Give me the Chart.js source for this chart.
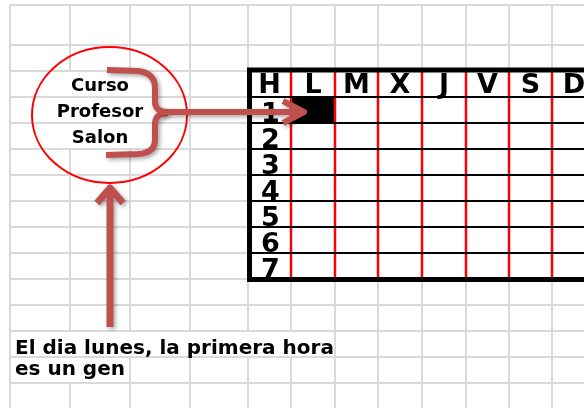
<!DOCTYPE html>
<html>
<head>
<meta charset="utf-8">
<script src="https://cdn.jsdelivr.net/npm/chart.js@4/dist/chart.umd.min.js"></script>
<style>
  html, body { margin: 0; padding: 0; background: #fff; }
</style>
</head>
<body>
<canvas id="sheet" width="584" height="408"></canvas>
<script>
// spreadsheet grid (column / row borders, in sheet units)
const sheetColEdges = [10, 70, 130, 190, 248, 291, 335, 378, 422, 466, 509, 552, 596];
const sheetRowEdges = [5, 45, 71, 97, 123, 149, 175, 201, 227, 253, 279, 305, 331, 357, 383];

// timetable
const days = ['H', 'L', 'M', 'X', 'J', 'V', 'S', 'D'];
const hours = ['1', '2', '3', '4', '5', '6', '7'];
const busySlots = [['L', '1']];

const legendLines = ['Curso', 'Profesor', 'Salon'];
const noteLines = ['El dia lunes, la primera hora', 'es un gen'];

const TABLE_COL = 4;   // table starts at this sheet column border
const TABLE_ROW = 2;   // and at this sheet row border
const FONT = '"DejaVu Sans", sans-serif';
const BRACE = 'rgb(192, 80, 77)';

const sheetPlugin = {
    id: 'sheetDrawing',
    afterDraw(chart) {
        const ctx = chart.ctx;
        const x = v => chart.scales.x.getPixelForValue(v);
        const y = v => chart.scales.y.getPixelForValue(v);
        const colX = i => x(sheetColEdges[i]);
        const rowY = i => y(sheetRowEdges[i]);

        ctx.save();

        // text overflowing cells hides vertical gridlines
        ctx.fillStyle = '#fff';
        for (let r = 2; r <= 4; r++) {
            ctx.fillRect(colX(0) + 1, rowY(r) + 1, colX(3) - colX(0) - 2, rowY(r + 1) - rowY(r) - 2);
        }
        ctx.fillRect(colX(0) + 1, rowY(12) + 1, colX(6) - colX(0) - 2, rowY(13) - rowY(12) - 2);
        ctx.fillRect(colX(0) + 1, rowY(13) + 1, colX(2) - colX(0) - 2, rowY(14) - rowY(13) - 2);

        // timetable
        const top = rowY(TABLE_ROW);
        const bottom = rowY(TABLE_ROW + hours.length + 1);
        const left = colX(TABLE_COL);
        const right = chart.width + 10;

        busySlots.forEach(([d, h]) => {
            const c = TABLE_COL + days.indexOf(d);
            const r = TABLE_ROW + 1 + hours.indexOf(h);
            ctx.fillStyle = '#000';
            ctx.fillRect(colX(c), rowY(r), colX(c + 1) - colX(c), rowY(r + 1) - rowY(r));
        });

        ctx.strokeStyle = '#ff0000';
        ctx.lineWidth = 2.5;
        for (let i = 1; i < days.length; i++) {
            ctx.beginPath();
            ctx.moveTo(colX(TABLE_COL + i), top);
            ctx.lineTo(colX(TABLE_COL + i), bottom);
            ctx.stroke();
        }
        ctx.strokeStyle = '#000';
        ctx.lineWidth = 2;
        for (let r = 1; r <= hours.length; r++) {
            ctx.beginPath();
            ctx.moveTo(left, rowY(TABLE_ROW + r));
            ctx.lineTo(right, rowY(TABLE_ROW + r));
            ctx.stroke();
        }
        ctx.lineWidth = 5;
        ctx.lineJoin = 'miter';
        ctx.beginPath();
        ctx.moveTo(right, top - 1);
        ctx.lineTo(left + 1.5, top - 1);
        ctx.lineTo(left + 1.5, bottom + 0.5);
        ctx.lineTo(right, bottom + 0.5);
        ctx.stroke();

        ctx.fillStyle = '#000';
        ctx.textAlign = 'center';
        ctx.textBaseline = 'alphabetic';
        ctx.font = 'bold 27px ' + FONT;
        days.forEach((d, i) => {
            const cx = (colX(TABLE_COL + i) + colX(TABLE_COL + i + 1)) / 2;
            ctx.fillText(d, cx, rowY(TABLE_ROW + 1) - 4);
        });
        hours.forEach((h, i) => {
            const cx = (colX(TABLE_COL) + colX(TABLE_COL + 1)) / 2 + 1;
            ctx.fillText(h, cx, rowY(TABLE_ROW + i + 2) - 1);
        });

        // legend inside the ellipse
        ctx.font = 'bold 18px ' + FONT;
        legendLines.forEach((t, i) => {
            ctx.fillText(t, x(100), rowY(3 + i) - 6);
        });

        // note at the bottom
        ctx.textAlign = 'left';
        ctx.font = 'bold 20px ' + FONT;
        noteLines.forEach((t, i) => {
            ctx.fillText(t, x(15), rowY(13) - 3 + i * 21);
        });

        // ellipse
        ctx.strokeStyle = '#ff0000';
        ctx.lineWidth = 2;
        ctx.beginPath();
        ctx.ellipse(x(109.5), y(115), 77.5, 68, 0, 0, Math.PI * 2);
        ctx.stroke();

        // brace + arrows
        ctx.shadowColor = 'rgba(0, 0, 0, 0.35)';
        ctx.shadowBlur = 4;
        ctx.shadowOffsetX = 2;
        ctx.shadowOffsetY = 2;
        ctx.strokeStyle = BRACE;
        ctx.lineWidth = 6;
        ctx.lineCap = 'butt';
        ctx.lineJoin = 'round';

        ctx.beginPath();
        ctx.moveTo(x(107), y(70));
        ctx.lineTo(x(138), y(71));
        ctx.quadraticCurveTo(x(155), y(73), x(155), y(88));
        ctx.lineTo(x(155), y(103));
        ctx.quadraticCurveTo(x(156), y(112), x(168), y(112));
        ctx.moveTo(x(168), y(113));
        ctx.quadraticCurveTo(x(156), y(113), x(155), y(123));
        ctx.lineTo(x(155), y(140));
        ctx.quadraticCurveTo(x(155), y(153), x(138), y(154));
        ctx.lineTo(x(106), y(155));
        ctx.stroke();

        ctx.beginPath();
        ctx.moveTo(x(160), y(112));
        ctx.lineTo(x(302), y(112));
        ctx.moveTo(x(283), y(101));
        ctx.lineTo(x(304), y(112));
        ctx.lineTo(x(283), y(123));
        ctx.stroke();

        ctx.lineWidth = 7;
        ctx.beginPath();
        ctx.moveTo(x(110), y(327));
        ctx.lineTo(x(110), y(190));
        ctx.moveTo(x(97), y(203));
        ctx.lineTo(x(110), y(188));
        ctx.lineTo(x(123), y(203));
        ctx.stroke();

        ctx.restore();
    }
};

const edgeTicks = edges => scale => {
    scale.ticks = edges
        .filter(v => v >= scale.min && v <= scale.max)
        .map(v => ({ value: v }));
};

new Chart(document.getElementById('sheet'), {
    type: 'scatter',
    data: { datasets: [] },
    options: {
        responsive: false,
        animation: false,
        layout: { padding: { left: 10, top: 5 } },
        scales: {
            x: {
                type: 'linear',
                min: 10,
                max: 584,
                afterBuildTicks: edgeTicks(sheetColEdges),
                ticks: { display: false },
                border: { display: false },
                grid: { color: '#dadada', lineWidth: 2, drawTicks: false }
            },
            y: {
                type: 'linear',
                reverse: true,
                min: 5,
                max: 408,
                afterBuildTicks: edgeTicks(sheetRowEdges),
                ticks: { display: false },
                border: { display: false },
                grid: { color: '#dadada', lineWidth: 2, drawTicks: false }
            }
        },
        plugins: {
            legend: { display: false },
            tooltip: { enabled: false }
        }
    },
    plugins: [sheetPlugin]
});
</script>
</body>
</html>
